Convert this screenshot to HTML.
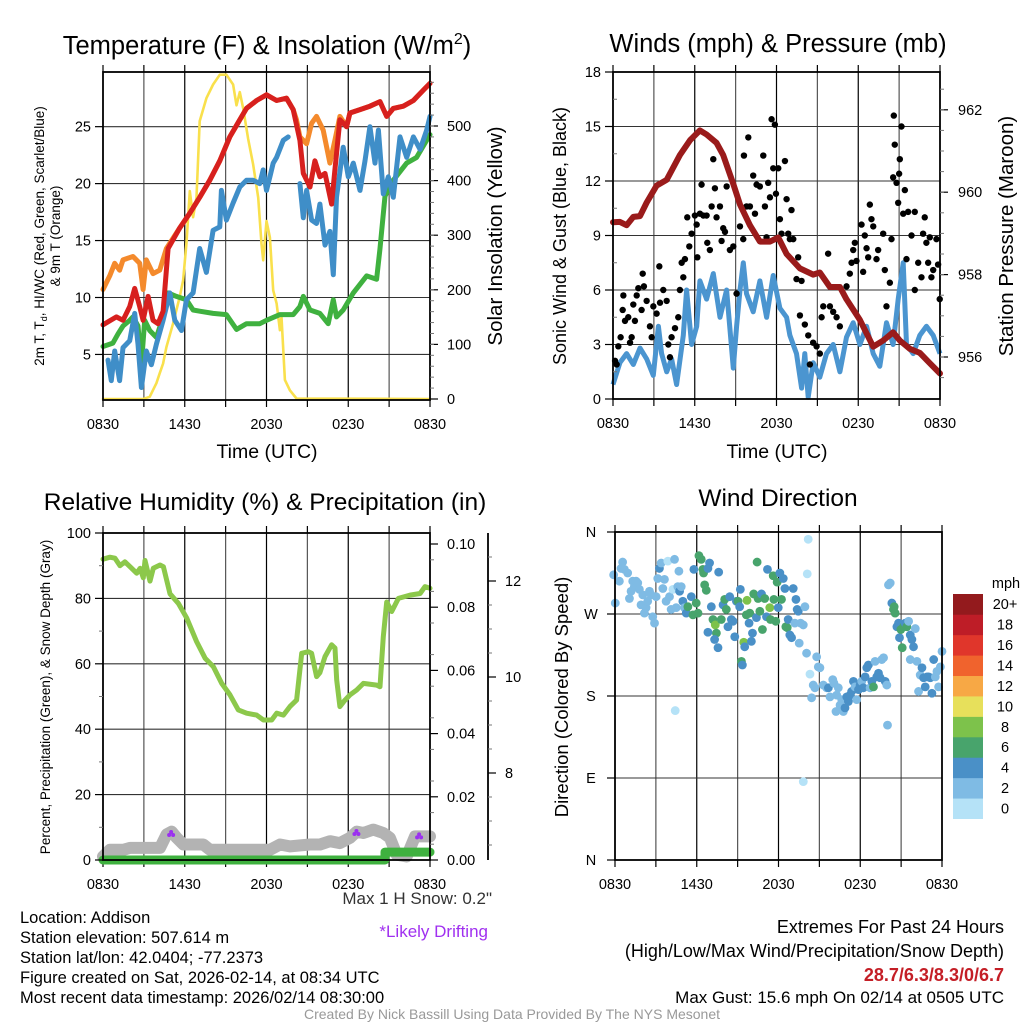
<!DOCTYPE html>
<html><head><meta charset="utf-8"><title>Mesonet Meteogram - Addison</title>
<style>
html,body{margin:0;padding:0;background:#fff;}
svg{display:block;font-family:"Liberation Sans",sans-serif;}
</style></head>
<body>
<svg id="fig" width="1024" height="1024" viewBox="0 0 1024 1024" xmlns="http://www.w3.org/2000/svg">
<rect width="1024" height="1024" fill="#fff"/>
<g id="layer"></g>
</svg>
<script>
// ---------- Panel A: Temperature & Insolation ----------
const tempT=[0,0.98,1.47,1.96,2.33,2.69,2.94,3.31,3.67,4.04,4.41,4.78,5.63,6.37,7.1,7.84,8.57,9.31,10.04,10.53,11.27,12,12.74,13.47,13.96,14.45,14.7,15.19,15.55,15.92,16.29,16.78,17.02,17.39,17.88,18.12,18.86,19.59,20.33,20.82,21.31,22.04,22.78,23.51,24];
const tempV=[7.6,8.3,8,9.2,10.8,9.2,8,10.1,8,7.7,8.8,14.3,16.1,17.4,18.8,20.3,22,24.1,25.6,26.6,27.3,27.8,27.3,27.5,26.5,23.8,20.9,19.7,22,20.6,20.9,18.2,21.2,25.6,25,26.2,26.5,26.8,27.2,25.9,26.6,26.8,27.3,28.2,28.8];
const t9T=[0,0.49,0.86,1.22,1.47,2.2,2.69,2.94,3.18,3.67,4.16,4.65,5.63,6.37,7.1,7.84,8.57,9.31,10.04,10.53,11.27,12,12.74,13.47,13.96,14.2,14.45,14.94,15.31,15.67,16.16,16.65,17.02,17.39,17.88,18.12,18.86,19.59,20.33,20.82,21.31,22.04,22.78,23.51,24];
const t9V=[10.7,11.9,13,12.4,13.3,13.6,13,10.7,13.3,12.1,12.4,14.3,16.1,17.4,18.8,20.3,22,24.1,25.6,26.6,27.3,27.8,27.3,27.5,26.5,25.6,24.1,23.5,25.3,25.9,24.7,21.8,23.8,25.9,25,26.2,26.5,26.8,27.2,25.9,26.6,26.8,27.3,28.2,28.8];
const dewT=[0,0.73,1.1,1.47,1.96,2.2,2.57,2.82,3.06,3.43,3.92,4.41,4.78,5.39,6.12,6.61,7.1,8.08,9.06,9.8,10.53,11.51,12,12.98,13.96,14.45,14.7,15.19,15.92,16.53,16.9,17.14,17.63,18.37,19.35,20.08,20.33,20.7,21.31,22.29,23.02,24];
const dewV=[5.7,6,6.8,7.5,8,8.3,7.5,4.1,8,7.1,6.5,8.3,10.4,10.1,9.8,8.9,8.8,8.6,8.5,7.2,7.7,7.7,8,8.5,8.5,9.2,10.1,8.9,8.6,7.7,9.8,8.3,8.9,10.4,11.9,11.6,14.3,18.9,20.3,21.8,22.3,24.3];
const wcT=[0.37,0.61,0.86,1.22,1.47,1.96,2.33,2.57,2.82,3.18,3.55,3.92,4.41,4.9,5.27,5.76,6.12,6.61,7.1,7.59,8.08,8.57,8.69,9.06,9.55,10.04,10.53,11.02,11.51,11.76,12,12.25,12.49,12.74,13.23,13.59,null,14.45,14.7,14.94,15.31,15.67,15.92,16.29,16.65,16.9,17.14,17.63,18,18.37,18.86,19.23,19.59,19.96,20.21,20.57,20.94,21.31,21.8,22.29,22.78,23.27,23.76,24];
const wcV=[4.5,2.7,5.3,2.7,5.6,6.2,8.6,5.9,2.1,5.3,4.1,5.9,8,10.4,8,7.1,9.8,10.4,14.3,12.2,15.9,16.2,19.4,16.8,18.3,19.7,20.3,20.3,20,21.2,19.4,20.6,21.8,22.3,23.8,24.1,null,20,17,19.4,16.8,16.5,18.2,14.6,15.8,12,18.8,23.2,20.6,21.8,19.4,22,25,21.8,24.7,19.1,20.6,18.8,24.1,22.3,24.1,23,24.7,25.9];
const solT=[0,2.94,3.43,3.92,4.16,4.41,4.65,5.14,5.63,5.88,6.12,6.37,6.61,6.86,7.1,7.59,8.08,8.57,9.06,9.55,9.8,10.04,10.29,10.65,11.02,11.39,11.63,11.76,12,12.25,12.49,12.74,12.98,13.1,13.35,13.72,14.2,24];
const solV=[0,0,4,29,47,65,95,138,187,217,284,381,333,369,509,551,576,594,594,576,538,562,532,477,430,369,284,254,326,296,199,175,126,150,35,16,1,0];
const tempTicks=[5,10,15,20,25];
const solTicks=[0,100,200,300,400,500];
const timeLabels=["0830","1430","2030","0230","0830"];

// ---------- Panel B: Winds & Pressure ----------
const windT=[0,0.51,1.0,1.49,1.98,2.47,2.96,3.33,3.57,3.94,4.3,4.67,5.16,5.4,5.77,6.14,6.38,6.87,7.36,7.85,8.34,8.83,9.07,9.32,9.56,9.8,10.29,10.78,11.27,11.76,12.25,12.74,12.98,13.47,13.84,14.08,14.33,14.69,15.18,15.67,16.16,16.65,17.14,17.63,18.12,18.61,19.1,19.58,20.07,20.56,20.93,21.3,21.54,22.03,22.52,23.0,23.5,24];
const windV=[0.8,2,2.5,1.9,2.8,2.2,1.3,4,2.5,1.5,2.2,0.8,3.5,6,3,4,6.5,5.5,6.9,4.5,6,1.7,4,6,7.5,5.8,4.8,6.5,4.5,6.8,5,4.5,3.5,2.5,0.6,2.5,0.1,2,1.2,2.5,3,1.5,3.4,4.2,3,4,2.5,1.8,4.2,3,5.5,7.5,3,2.5,3.5,4,3.5,2.5];
const gustT=[0.15,0.27,0.39,0.56,0.71,0.76,0.88,1.12,1.25,1.37,1.49,1.61,1.74,1.86,2.1,2.18,2.27,2.47,2.71,2.84,2.96,3.2,3.4,3.45,3.69,3.94,4.06,4.18,4.3,4.55,4.79,4.91,5.04,5.16,5.28,5.45,5.6,5.77,6.01,6.14,6.19,6.38,6.5,6.63,6.87,6.92,7.11,7.24,7.36,7.48,7.6,7.85,7.97,8.09,8.22,8.34,8.58,8.83,9.07,9.32,9.56,9.61,9.8,9.93,10.05,10.29,10.42,10.54,10.78,11.03,11.15,11.27,11.39,11.52,11.64,11.76,11.88,11.96,12.13,12.25,12.37,12.62,12.74,12.86,12.98,13.1,13.23,13.47,13.59,13.72,13.84,14.08,14.33,14.45,14.69,14.94,15.18,15.31,15.43,15.79,15.92,16.16,16.41,16.65,17.14,17.38,17.51,17.63,17.75,17.87,18.24,18.36,18.48,18.61,18.73,18.85,18.97,19.1,19.34,19.46,19.83,19.95,20.07,20.32,20.44,20.56,20.61,20.68,20.81,20.93,21.0,21.05,21.17,21.3,21.42,21.54,21.66,21.91,22.15,22.15,22.4,22.64,22.76,22.88,23.0,23.13,23.25,23.37,23.5,23.74,23.86,23.98];
const gustV=[2.1,1.9,2.9,3.4,4.9,5.7,4.3,4.5,3.1,3.4,5.2,4.3,5.7,6.1,4.9,6.9,6.2,5.4,4.0,3.4,5.1,4.7,7.3,5.3,6.0,5.4,3.0,2.3,3.4,3.9,4.5,6.0,7.5,6.7,7.7,10.0,8.4,9.1,10.1,9.6,7.8,10.2,11.8,10.1,10.1,8.6,8.2,10.6,13.2,11.6,10.0,10.6,8.7,9.4,9.2,11.7,8.2,8.4,5.8,9.5,8.8,13.4,10.6,14.4,10.6,12.3,10.2,11.8,11.7,13.4,10.6,8.9,11.9,11.1,15.4,12.7,15.1,11.3,12.7,9.9,9.1,13.1,11.0,9.1,8.8,10.4,8.8,6.6,7.8,4.6,6.5,4.1,3.5,1.9,3.1,2.9,2.5,4.5,5.1,8.0,5.1,4.8,4.5,4.0,6.2,6.9,7.5,8.2,8.6,7.6,9.6,7.0,9.0,8.3,7.8,10.7,9.9,9.5,7.7,8.2,9.1,7.1,5.1,6.4,8.8,12.2,15.6,14.0,11.9,10.8,12.4,13.2,15.0,10.2,11.5,7.7,10.3,9.0,10.3,6.0,7.5,6.7,9.1,10.0,8.6,7.5,8.9,6.7,7.1,8.8,7.4,5.5];
const presT=[0,0.51,1.0,1.49,1.98,2.47,3.2,3.94,4.91,5.65,6.38,6.87,7.6,8.09,8.83,9.32,10.05,10.78,11.52,12.13,12.74,13.72,14.69,15.18,15.92,16.65,17.14,18.12,19.1,19.83,20.56,21.05,21.78,22.52,23.25,24];
const presV=[959.27,959.28,959.2,959.4,959.42,959.75,960.16,960.3,960.9,961.26,961.5,961.4,961.2,960.9,960.2,959.7,959.2,958.8,958.8,958.9,958.5,958.15,958.0,958.05,957.7,957.7,957.4,956.9,956.25,956.4,956.6,956.4,956.2,956.1,955.85,955.6];
const windTicks=[0,3,6,9,12,15,18];
const presTicks=[956,958,960,962];

// ---------- Panel C: RH, Precip, Snow ----------
const rhT=[0,0.51,0.88,1.25,1.61,1.98,2.47,2.72,2.96,3.08,3.45,3.69,4.18,4.43,4.92,5.53,6.14,6.87,7.49,8.1,8.71,9.32,9.93,10.54,11.28,11.77,12.38,12.75,13.24,13.72,14.21,14.58,15.07,15.31,15.68,15.92,16.29,16.78,17.03,17.15,17.39,17.76,18.13,18.62,19.11,20.09,20.33,20.57,20.82,21.19,21.68,22.53,23.27,23.63,24];
const rhV=[92,92.6,92.3,90,91.2,89.7,87.7,89.2,86.3,91.6,85.3,89.2,90.2,89.7,81.4,78.5,74,66.8,61.7,59.1,54,50.5,45.9,44.9,44.3,42.8,42.8,44.9,44.3,46.9,48.9,63.2,63.7,63.2,56.1,57.3,62.2,65.8,64.8,55,46.9,48.9,50.5,52,54,53.5,53,68.3,78.9,76,80,81,81.5,83.6,83.1];
const precipT=[0,20.7,20.7,24];
const precipV=[0,0,0.0025,0.0025];
const snowT=[0,0.51,1.49,1.98,2.72,3.69,4.18,4.67,5.04,5.41,5.9,7.36,7.85,12.26,12.99,13.72,15.19,15.93,16.66,17.39,18.13,18.62,19.11,19.84,20.57,21.06,21.55,22.29,22.9,23.51,24];
const snowV=[6.26,6.40,6.40,6.44,6.44,6.44,6.44,6.72,6.78,6.65,6.51,6.51,6.40,6.40,6.51,6.47,6.51,6.51,6.58,6.54,6.65,6.78,6.75,6.82,6.75,6.65,6.30,6.26,6.68,6.68,6.68];
const driftT=[5.0,18.6,23.2];
const driftV=[6.75,6.77,6.7];
const rhTicks=[0,20,40,60,80,100];
const prTicks=["0.00","0.02","0.04","0.06","0.08","0.10"];
const snTicks=[8,10,12];

// ---------- Panel D: Wind Direction ----------
const dirT=[-0.1,0.02,0.32,0.44,0.56,0.69,0.93,1.06,1.18,1.3,1.42,1.55,1.67,1.79,1.91,2.04,2.16,2.28,2.4,2.53,2.65,2.77,2.9,3.02,3.14,3.26,3.39,3.51,3.63,3.75,3.88,4.0,4.12,4.25,4.37,4.49,4.61,4.69,4.74,4.86,4.98,5.1,5.23,5.35,5.6,5.72,5.79,5.96,6.09,6.16,6.33,6.45,6.5,6.58,6.7,6.82,6.94,7.07,7.19,7.36,7.44,7.31,7.56,6.82,7.61,7.8,7.93,8.05,8.17,8.29,8.42,8.54,8.66,8.79,8.91,9.03,9.15,9.2,9.28,9.35,9.45,9.52,9.64,9.69,9.84,9.89,10.01,10.09,10.18,10.38,10.43,10.5,10.63,10.75,10.82,10.99,11.12,11.19,11.36,11.41,11.61,11.66,11.8,11.9,11.98,12.1,12.22,12.35,12.47,12.54,12.64,12.71,12.83,12.96,13.08,13.2,13.28,13.37,13.45,13.52,13.62,13.82,13.94,14.06,14.11,14.18,14.31,14.43,14.55,14.67,14.8,14.92,15.04,15.29,15.53,15.66,15.78,15.98,16.07,16.22,16.27,16.39,16.52,16.64,16.76,16.88,17.01,17.13,17.25,17.37,17.5,17.62,17.74,17.87,17.99,18.11,18.23,18.36,18.48,18.6,18.72,18.85,18.97,19.09,19.21,19.34,19.46,19.58,19.71,19.83,19.95,20.0,20.07,20.2,20.32,20.44,20.49,20.56,20.69,20.81,20.88,20.98,21.08,21.18,21.3,21.42,21.55,21.67,21.79,21.91,22.04,21.67,22.16,22.28,22.4,22.53,22.65,22.77,22.9,23.02,23.14,23.26,23.39,23.51,23.63,23.75,23.88,24.0,13.82,4.42];
const dirV=[313,282,306,320,327,319,315,287,295,306,300,306,304,297,280,291,271,277,284,295,291,267,260,289,309,320,326,298,308,284,328,289,275,297,330,277,300,317,295,300,284,277,271,278,289,269,319,282,271,334,330,319,315,302,296,320,326,278,264,258,249,242,233,250,316,264,280,286,275,256,289,264,262,245,284,284,278,297,218,214,239,234,269,285,260,271,240,249,292,266,327,287,273,292,253,287,267,319,277,264,312,286,262,305,277,315,286,309,298,256,255,264,247,244,298,260,286,275,273,238,260,258,278,227,314,352,204,178,192,189,223,212,211,192,189,189,179,198,194,163,181,189,170,176,163,167,179,174,181,185,196,190,176,187,192,196,189,201,211,214,189,196,190,218,201,205,200,220,222,196,192,148,302,304,282,275,278,271,256,260,244,253,233,256,260,256,262,247,242,234,254,220,218,185,203,211,200,190,201,201,200,183,220,201,207,190,212,229,86,164];
const dirS=[3,3,3,3,3,3,3,3,3,3,3,3,3,3,3,3,3,3,3,3,3,3,3,3,3,5,3,3,3,3,1,3,3,1,3,3,3,3,5,3,5,3,5,7,5,7,5,7,7,7,7,7,7,7,7,5,5,5,7,9,7,5,5,5,5,7,5,7,7,5,5,5,5,5,5,7,5,5,7,5,9,5,7,9,5,7,5,5,7,5,7,7,7,5,7,7,5,5,9,7,7,7,7,7,5,5,7,5,5,7,7,5,5,5,5,3,5,5,5,3,3,3,3,3,1,1,1,3,3,3,3,3,3,3,3,5,3,3,3,3,3,3,3,3,3,5,5,5,5,5,5,3,3,5,5,3,5,5,5,5,3,5,7,3,5,5,5,3,3,5,3,3,3,3,5,7,7,7,5,5,5,7,7,7,5,7,3,5,5,5,3,3,3,3,3,5,5,5,5,5,5,5,5,3,3,3,3,3,1,1];
const dirLabels=["N","E","S","W","N"];
const cbLabels=["0","2","4","6","8","10","12","14","16","18","20+"];
const cbColors=["#b5e2f7","#7fbbe4","#4a90c7","#48a46c","#7dc24b","#e7e05b","#f7a845","#f0632d","#e0362b","#be1d27","#931a1d"];

// ---------- drawing ----------
const NS="http://www.w3.org/2000/svg";
const layer=document.getElementById('layer');
function el(tag,attrs,parent,text){
  const e=document.createElementNS(NS,tag);
  for(const k in attrs) e.setAttribute(k,attrs[k]);
  if(text!==undefined) e.textContent=text;
  (parent||layer).appendChild(e);
  return e;
}
function grp(name){const g=el('g',{});return g;}
function linePath(ts,vs,fx,fy){
  let d="",pen=false;
  for(let i=0;i<ts.length;i++){
    if(ts[i]===null||vs[i]===null){pen=false;continue;}
    d+=(pen?"L":"M")+fx(ts[i]).toFixed(1)+","+fy(vs[i]).toFixed(1);pen=true;
  }
  return d;
}
function txt(g,x,y,s,size,anchor,extra){
  const a={x:x,y:y,'font-size':size,'text-anchor':anchor||'middle',fill:'#000'};
  if(extra) for(const k in extra) a[k]=extra[k];
  return el('text',a,g,s);
}
function frame(name,x0,x1,y0,y1,fx,gridYs){
  const g=grp(name);
  const gg=el('g',{},g);
  
  
  for(let h=3;h<24;h+=3){el('line',{x1:fx(h),x2:fx(h),y1:y0,y2:y1,stroke:(h%6==0)?'#000':'#555','stroke-width':1.2},gg);}
  gridYs.forEach(y=>el('line',{x1:x0,x2:x1,y1:y,y2:y,stroke:'#333','stroke-width':1.1},gg));
  for(let h=0;h<=24;h+=3){
    el('line',{x1:fx(h),x2:fx(h),y1:y1,y2:y1+7,stroke:'#000','stroke-width':1.2},g);
    el('line',{x1:fx(h),x2:fx(h),y1:y0,y2:y0-7,stroke:'#000','stroke-width':1.2},g);
  }
  const xl=el('g',{},g);
  
  
  timeLabels.forEach((s,i)=>txt(xl,fx(i*6),y1+29,s,14.5));
  return g;
}
function border(g,x0,x1,y0,y1){el('rect',{x:x0,y:y0,width:x1-x0,height:y1-y0,fill:'none',stroke:'#000','stroke-width':1.8},g);}
function leftTicks(g,x0,ys,labels,size){
  ys.forEach((y,i)=>{el('line',{x1:x0-8,x2:x0,y1:y,y2:y,stroke:'#000','stroke-width':1.2},g);txt(g,x0-12,y+5,labels[i],size||14.5,'end');});
}

// ===== Panel A =====
(function(){
  const x0=103,x1=430,y0=72,y1=400;
  const fx=h=>x0+h*(x1-x0)/24;
  const fy=v=>400-(v-1)*(328/28.8);
  const fs=s=>399-s*0.546;
  const g=frame('temperature-panel',x0,x1,y0,y1,fx,tempTicks.map(fy).concat([y0]));
  txt(g,267,54,'',25.5).innerHTML='Temperature (F) &amp; Insolation (W/m<tspan font-size="16" dy="-10">2</tspan><tspan dy="10">)</tspan>';
  
  const series=[[solT,solV,'#f9e04c',2.6,fs,'solar-insolation-line'],[t9T,t9V,'#f48a2c',5,fy,'temp-9m-line'],[dewT,dewV,'#3fb13f',5,fy,'dewpoint-line'],[wcT,wcV,'#3f8ec8',5,fy,'windchill-line'],[tempT,tempV,'#d7201e',5,fy,'temp-2m-line']];
  series.forEach(s=>{
    const p=el('path',{d:linePath(s[0],s[1],fx,s[4]),fill:'none',stroke:s[2],'stroke-width':s[3],'stroke-linejoin':'round','stroke-linecap':'round'},g);
    
  });
  border(g,x0,x1,y0,y1);
  leftTicks(g,x0,tempTicks.map(fy),tempTicks.map(String));
  solTicks.forEach(s=>{el('line',{x1:x1,x2:x1+8,y1:fs(s),y2:fs(s),stroke:'#000','stroke-width':1.2},g);txt(g,x1+17,fs(s)+5,String(s),14.5,'start');});
  for(let s=20;s<600;s+=20){el('line',{x1:x1,x2:x1+4,y1:fs(s),y2:fs(s),stroke:'#777','stroke-width':1},g);}
  const yt=txt(g,0,0,'',13.5,'middle',{transform:'translate(44,236) rotate(-90)'});
  yt.innerHTML='2m T, T<tspan font-size="9" dy="3">d</tspan><tspan dy="-3">, HI/WC (Red, Green, Scarlet/Blue)</tspan>';
  
  const yt2=txt(g,0,0,'& 9m T (Orange)',13.5,'middle',{transform:'translate(60,236) rotate(-90)'});
  
  const rt=txt(g,0,0,'Solar Insolation (Yellow)',20.5,'middle',{transform:'translate(502,236) rotate(-90)'});
  
  const xt=txt(g,267,458,'Time (UTC)',19.5);
  
})();

// ===== Panel B =====
(function(){
  const x0=613,x1=940,y0=72,y1=399;
  const fx=h=>x0+h*(x1-x0)/24;
  const fy=v=>399-v*(327/18);
  const fp=p=>357-(p-956)*41.2;
  const g=frame('winds-panel',x0,x1,y0,y1,fx,windTicks.map(fy));
  const t=txt(g,778,52,'Winds (mph) & Pressure (mb)',25.5);
  
  const wp=el('path',{d:linePath(windT,windV,fx,fy),fill:'none',stroke:'#4b95d0','stroke-width':5,'stroke-linejoin':'round'},g);
  
  const gd=el('g',{},g);
  
  gustT.forEach((h,i)=>{el('circle',{cx:fx(h),cy:fy(gustV[i]),r:3.2,fill:'#000'},gd);});
  const pp=el('path',{d:linePath(presT,presV,fx,fp),fill:'none',stroke:'#9a1b1b','stroke-width':6,'stroke-linejoin':'round','stroke-linecap':'round'},g);
  
  border(g,x0,x1,y0,y1);
  leftTicks(g,x0,windTicks.map(fy),windTicks.map(String));
  for(let v=1.5;v<18;v+=3){el('line',{x1:x0,x2:x0+4,y1:fy(v),y2:fy(v),stroke:'#777'},g);}
  presTicks.forEach(p=>{el('line',{x1:x1,x2:x1+8,y1:fp(p),y2:fp(p),stroke:'#000','stroke-width':1.2},g);txt(g,x1+18,fp(p)+5,String(p),14.5,'start');});
  for(let p=955.5;p<963;p+=0.5){el('line',{x1:x1,x2:x1+4,y1:fp(p),y2:fp(p),stroke:'#777'},g);}
  const lt=txt(g,0,0,'Sonic Wind & Gust (Blue, Black)',18,'middle',{transform:'translate(566,236) rotate(-90)'});
  
  const rt=txt(g,0,0,'Station Pressure (Maroon)',20.5,'middle',{transform:'translate(1013,236) rotate(-90)'});
  
  const xt=txt(g,777,458,'Time (UTC)',19.5);
  
})();

// ===== Panel C =====
(function(){
  const x0=103,x1=430,y0=533,y1=860;
  const fx=h=>x0+h*(x1-x0)/24;
  const fy=v=>860-v*3.27;
  const fpr=v=>860-v*3160;
  const fsn=s=>773-(s-8)*48;
  const g=frame('humidity-panel',x0,x1,y0,y1,fx,rhTicks.map(fy));
  const t=txt(g,265,510,'Relative Humidity (%) & Precipitation (in)',24.5);
  
  const sp=el('path',{d:linePath(snowT,snowV,fx,fsn),fill:'none',stroke:'#b3b3b3','stroke-width':12,'stroke-linejoin':'round','stroke-linecap':'round'},g);
  
  const dg=el('g',{},g);
  
  driftT.forEach((h,i)=>{el('circle',{cx:fx(h)-2,cy:fsn(driftV[i])+2,r:2,fill:'#9b30f0'},dg);el('circle',{cx:fx(h)+2,cy:fsn(driftV[i])+2,r:2,fill:'#9b30f0'},dg);el('circle',{cx:fx(h),cy:fsn(driftV[i])-1,r:2,fill:'#9b30f0'},dg);});
  const pp=el('path',{d:linePath(precipT,precipV,fx,fpr),fill:'none',stroke:'#3fb13f','stroke-width':9,'stroke-linejoin':'round','stroke-linecap':'round'},g);
  
  const rp=el('path',{d:linePath(rhT,rhV,fx,fy),fill:'none',stroke:'#8cc84b','stroke-width':5,'stroke-linejoin':'round','stroke-linecap':'round'},g);
  
  border(g,x0,x1,y0,y1);
  leftTicks(g,x0,rhTicks.map(fy),rhTicks.map(String));
  for(let v=10;v<100;v+=20){el('line',{x1:x0-4,x2:x0,y1:fy(v),y2:fy(v),stroke:'#777'},g);}
  prTicks.forEach(s=>{const y=fpr(parseFloat(s));el('line',{x1:x1,x2:x1+8,y1:y,y2:y,stroke:'#000','stroke-width':1.2},g);txt(g,x1+17,y+5,s,14.5,'start');});
  for(let v=0.005;v<0.1;v+=0.01){el('line',{x1:x1,x2:x1+4,y1:fpr(v),y2:fpr(v),stroke:'#777'},g);}
  el('line',{x1:488,x2:488,y1:y0,y2:y1,stroke:'#000','stroke-width':1.8},g);
  snTicks.forEach(s=>{el('line',{x1:488,x2:496,y1:fsn(s),y2:fsn(s),stroke:'#000','stroke-width':1.2},g);txt(g,505,fsn(s)+5,String(s),14.5,'start');});
  for(let s=6.5;s<13;s+=0.5){if(s%2)el('line',{x1:488,x2:492,y1:fsn(s),y2:fsn(s),stroke:'#777'},g);}
  const lt=txt(g,0,0,'Percent, Precipitation (Green), & Snow Depth (Gray)',13.5,'middle',{transform:'translate(50,697) rotate(-90)'});
  
})();

// ===== Panel D =====
(function(){
  const x0=615,x1=942,y0=532,y1=860;
  const fx=h=>x0+h*(x1-x0)/24;
  const fy=d=>860-d*(328/360);
  const g=frame('wind-direction-panel',x0,x1,y0,y1,fx,[90,180,270].map(fy));
  const t=txt(g,778,506,'Wind Direction',24.5);
  
  const pg=el('g',{},g);
  
  dirT.forEach((h,i)=>{
    const idx=Math.min(10,Math.floor(dirS[i]/2));
    el('circle',{cx:fx(h),cy:fy(dirV[i]),r:4.4,fill:cbColors[idx]},pg);
  });
  border(g,x0,x1,y0,y1);
  dirLabels.forEach((s,i)=>{const y=fy(i*90);el('line',{x1:x0-8,x2:x0,y1:y,y2:y,stroke:'#000','stroke-width':1.2},g);txt(g,x0-24,y+5,s,14.5,'middle');});
  const lt=txt(g,0,0,'Direction (Colored By Speed)',18.5,'middle',{transform:'translate(568,697) rotate(-90)'});
  
  const cb=el('g',{},g);
  
  const bh=(818.7-594)/11;
  cbColors.forEach((c,i)=>{const y=818.7-(i+1)*bh;el('rect',{x:953,y:y,width:30,height:bh+0.3,fill:c},cb);txt(cb,1005,y+bh/2+5,cbLabels[i],14.5);});
  txt(cb,1006,588,'mph',14.5);
})();

// ===== Footer text =====
(function(){
  const g=grp('station-info');
  const lines=['Location: Addison','Station elevation: 507.614 m','Station lat/lon: 42.0404; -77.2373','Figure created on Sat, 2026-02-14, at 08:34 UTC','Most recent data timestamp: 2026/02/14 08:30:00'];
  lines.forEach((s,i)=>txt(g,20,923+i*20,s,16.5,'start'));
  const s1=txt(g,492,904,'Max 1 H Snow: 0.2"',17,'end',{fill:'#333'});
  
  const s2=txt(g,488,937,'*Likely Drifting',17,'end',{fill:'#a030f0'});
  
  const e=grp('extremes-summary');
  txt(e,1004,933,'Extremes For Past 24 Hours',18,'end');
  txt(e,1004,957,'(High/Low/Max Wind/Precipitation/Snow Depth)',18,'end');
  txt(e,1004,981,'28.7/6.3/8.3/0/6.7',18,'end',{fill:'#c41e26','font-weight':'bold'});
  txt(e,1004,1003,'Max Gust: 15.6 mph On 02/14 at 0505 UTC',17,'end');
  const c=txt(layer,512,1019,'Created By Nick Bassill Using Data Provided By The NYS Mesonet',14,'middle',{fill:'#999'});
  
})();
</script>
</body></html>
